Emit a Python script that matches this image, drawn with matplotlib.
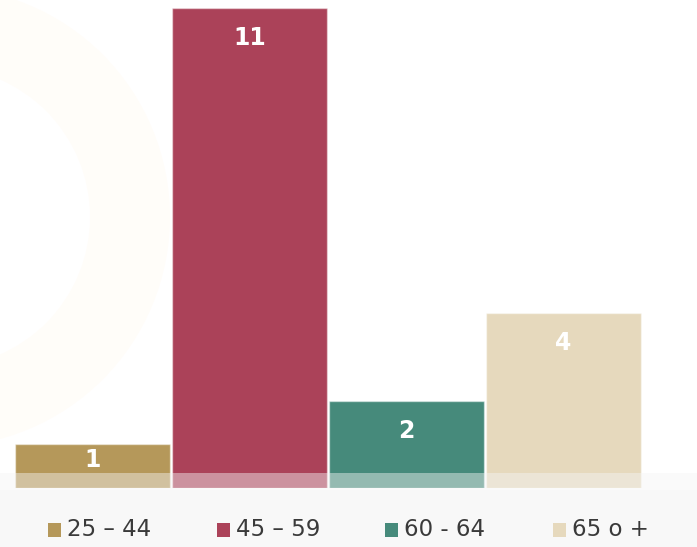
import numpy as np
import matplotlib.pyplot as plt
from matplotlib.patches import Rectangle, Circle

categories = ['25 – 44', '45 – 59', '60 - 64', '65 o +']
values = [1, 11, 2, 4]
colors = ['#b5985a', '#ab4259', '#468a7b', '#e6d9bd']

W, H = 697, 547
fig = plt.figure(figsize=(W / 100, H / 100), dpi=100)
fig.patch.set_facecolor('white')

# faint watermark on the left
bg = fig.add_axes([0, 0, 1, 1], zorder=0)
bg.set_xlim(0, W)
bg.set_ylim(0, H)
bg.axis('off')
bg.add_patch(Circle((-60, 330), 230, facecolor='#fffdf9', edgecolor='none'))
bg.add_patch(Circle((-60, 330), 150, facecolor='white', edgecolor='none'))

# bar axes: x 14..642 px, y from 488 (bottom) to 8 (value 11)
ax = fig.add_axes([14 / W, (H - 488) / H, 628 / W, 480 / H], zorder=1)
ax.patch.set_alpha(0)
x = np.arange(len(values))
ax.bar(x, values, width=0.99, color=colors,
       edgecolor=(1, 1, 1, 0.45), linewidth=1)
ax.set_xlim(-0.5, 3.5)
ax.set_ylim(0, 11)
ax.axis('off')

px_per_unit = 480 / 11
for xi, v in zip(x, values):
    off = min(30, 0.36 * v * px_per_unit) / px_per_unit
    ax.text(xi, v - off, str(v), ha='center', va='center', color='white',
            fontsize=17, fontweight='bold')

# light band over the bottom
top = fig.add_axes([0, 0, 1, 1], zorder=2)
top.set_xlim(0, W)
top.set_ylim(0, H)
top.axis('off')
top.patch.set_alpha(0)
top.add_patch(Rectangle((0, 0), W, H - 473, facecolor='#f5f5f5',
                        alpha=0.45, edgecolor='none'))
top.add_patch(Rectangle((0, 0), W, H - 490, facecolor='#f8f8f8',
                        alpha=0.6, edgecolor='none'))

# legend
leg_x = [48, 217, 385, 553]
for lx, lab, c in zip(leg_x, categories, colors):
    top.add_patch(Rectangle((lx, H - 537), 13, 14, facecolor=c,
                            edgecolor='none'))
    top.text(lx + 19, H - 530, lab, ha='left', va='center',
             fontsize=16.5, color='#3a3a3a')

plt.savefig('out.png', dpi=100, facecolor='white')
plt.close()
